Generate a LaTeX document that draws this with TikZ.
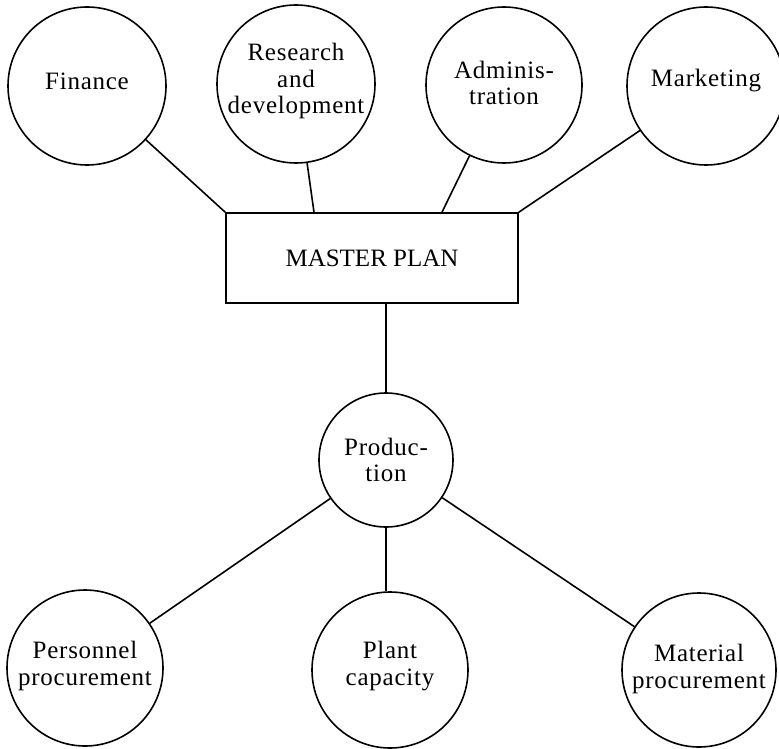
\documentclass[tikz,border=0pt]{standalone}
\usepackage{fontspec}
\setmainfont[LetterSpace=3]{Liberation Serif}
\newfontfamily\plainserif{Liberation Serif}
\begin{document}
\begin{tikzpicture}[x=1pt,y=-1pt,
  every node/.style={font=\fontsize{25}{26.5}\selectfont, align=center},
  dept/.style={circle, draw, line width=1.6pt, inner sep=0pt, minimum size=158pt},
  hub/.style={circle, draw, line width=1.6pt, inner sep=0pt, minimum size=134pt},
  lab/.style={inner sep=0pt},
  planbox/.style={rectangle, draw, line width=1.6pt, minimum width=292pt, minimum height=90pt,
    font=\plainserif\fontsize{25}{26.5}\selectfont},
  link/.style={line width=1.6pt}]
\useasboundingbox (0,0) rectangle (779,749);

% functional areas feeding the master plan
\node[dept, label={[lab, yshift=5pt]center:Finance}] (fin) at (87,86) {};
\node[dept, label={[lab, yshift=3pt]center:Research\\and\\development}] (rnd) at (296,84) {};
\node[dept, minimum size=156pt, label={[lab, yshift=2pt]center:Adminis-\\tration}] (adm) at (504,85) {};
\node[dept, label={[lab, yshift=5pt]center:Marketing}] (mkt) at (706,86) {};

\node[planbox] (master) at (372,258) {MASTER PLAN};

% production and its sub-areas
\node[hub] (prod) at (386,460) {Produc-\\tion};
\node[dept, minimum size=156pt, label={[lab, yshift=2pt]center:Personnel\\procurement}] (pers) at (85,668) {};
\node[dept, minimum size=156pt, label={[lab, yshift=4pt]center:Plant\\capacity}] (plant) at (390,670) {};
\node[dept, minimum size=154pt, label={[lab, yshift=1pt]center:Material\\procurement}] (mat) at (699,670) {};

% connectors
\draw[link] (fin) -- (master.north west);
\draw[link] (rnd) -- ([xshift=-58pt]master.north);
\draw[link] (adm) -- ([xshift=70pt]master.north);
\draw[link] (mkt) -- (master.north east);
\draw[link] ([xshift=14pt]master.south) -- (prod);
\draw[link] (prod) -- (pers);
\draw[link] (prod.south) -- (prod.south |- plant.north);
\draw[link] (prod) -- (mat);
\end{tikzpicture}
\end{document}
